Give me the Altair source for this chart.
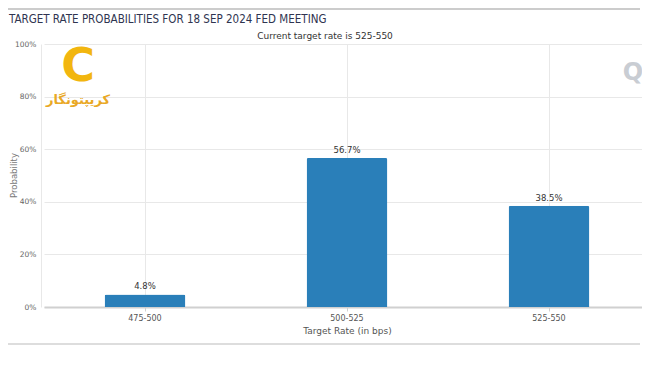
import altair as alt
import pandas as pd

categories = ["475-500", "500-525", "525-550"]
probabilities = [4.8, 56.7, 38.5]
bar_labels = ["4.8%", "56.7%", "38.5%"]
title_text = "TARGET RATE PROBABILITIES FOR 18 SEP 2024 FED MEETING"
subtitle_text = "Current target rate is 525-550"
logo_text = "کریپتونگار"

df = pd.DataFrame({
    "rate": categories,
    "prob": [p / 100 for p in probabilities],
    "label": bar_labels,
})

W, H = 599, 263
FONT = "Liberation Sans Narrow, DejaVu Sans Condensed, Liberation Sans, sans-serif"
AX_FONT = "DejaVu Sans, sans-serif"

x_enc = alt.X(
    "rate:N", sort=categories, title="Target Rate (in bps)",
    scale=alt.Scale(range=[3, 609], paddingInner=0, paddingOuter=0),
    axis=alt.Axis(labelAngle=0, grid=True, bandPosition=0.5, gridColor="#e8e8e8",
                  domainColor="#d0d0d0", domainWidth=2, tickColor="#d0d0d0", tickSize=4,
                  labelFontSize=8, labelColor="#555555", labelFont=AX_FONT,
                  titleFontSize=9, titleColor="#555555", titleFontWeight="normal",
                  titleFont=AX_FONT, labelPadding=3, titlePadding=4, titleX=306),
)
y_enc = alt.Y(
    "prob:Q", title="Probability", scale=alt.Scale(domain=[0, 1]),
    axis=alt.Axis(format=".0%", values=[0, 0.2, 0.4, 0.6, 0.8, 1.0], gridColor="#e8e8e8",
                  domain=True, domainColor="#e8e8e8", ticks=False,
                  labelFontSize=7.5, labelColor="#666666", labelFont=AX_FONT, labelPadding=5,
                  titleFontSize=8.5, titleColor="#777777", titleFontWeight="normal",
                  titleFont=AX_FONT, titleX=-28, titleY=131, titleAngle=270,
                  titleAlign="center", titleBaseline="middle"),
)

bars = alt.Chart(df).mark_bar(
    color="#2a7fb9", width=alt.RelativeBandSize(0.4),
    cornerRadiusTopLeft=2, cornerRadiusTopRight=2,
).encode(x=x_enc, y=y_enc)

texts = alt.Chart(df).mark_text(
    dy=-8, fontSize=8.5, color="#333333", font=AX_FONT
).encode(x=alt.X("rate:N", sort=categories), y="prob:Q", text="label:N")

one = pd.DataFrame({"t": [title_text], "s": [subtitle_text], "l": [logo_text]})

top_line = alt.Chart(one).mark_rule(color="#bbbbbb", strokeWidth=1.5).encode(
    x=alt.value(-41), x2=alt.value(599), y=alt.value(-35))
bottom_line = alt.Chart(one).mark_rule(color="#dddddd", strokeWidth=2).encode(
    x=alt.value(-41), x2=alt.value(599), y=alt.value(300))

title = alt.Chart(one).mark_text(
    align="left", baseline="middle", fontSize=11.5, color="#2f3450", font=FONT
).encode(x=alt.value(-32), y=alt.value(-24), text="t:N")
subtitle = alt.Chart(one).mark_text(
    align="center", baseline="middle", fontSize=9, color="#333333", font=AX_FONT
).encode(x=alt.value(284), y=alt.value(-8), text="s:N")

logo_mark = alt.Chart(one).mark_text(
    align="center", baseline="middle", fontSize=46, fontWeight="bold", color="#f2b60f",
    font="DejaVu Sans"
).encode(x=alt.value(37), y=alt.value(23), text=alt.value("C"))
logo = alt.Chart(one).mark_text(
    align="center", baseline="middle", fontSize=13, fontWeight="bold", color="#e9a825",
    font="DejaVu Sans"
).encode(x=alt.value(37), y=alt.value(56), text="l:N")
watermark = alt.Chart(one).mark_text(
    align="center", baseline="middle", fontSize=24, fontWeight="bold", color="#c9cdd3",
    font="DejaVu Sans"
).encode(x=alt.value(592), y=alt.value(29), text=alt.value("Q"))

chart = alt.layer(
    bars, texts, top_line, bottom_line, title, subtitle, logo_mark, logo, watermark
).properties(
    width=W, height=H, autosize="none",
    padding={"left": 33, "top": 36, "right": 2, "bottom": 40},
    background="white",
).configure_view(stroke=None)

chart.save("out.html", embed_options={"renderer": "svg", "actions": False})
